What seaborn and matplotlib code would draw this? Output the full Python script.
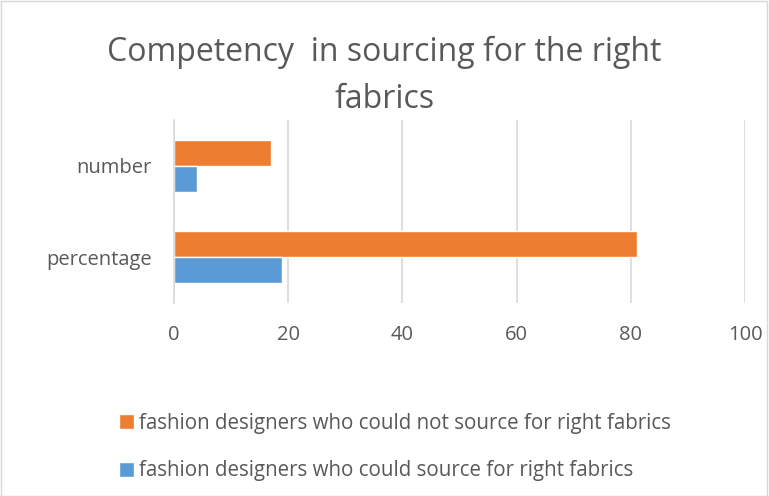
import matplotlib
matplotlib.use("Agg")
import matplotlib.pyplot as plt
import seaborn as sns
import pandas as pd
from matplotlib.patches import Rectangle, Patch

categories = ["number", "percentage"]
series_names = ["fashion designers who could not source for right fabrics",
                "fashion designers who could source for right fabrics"]
could_not = [17, 81]
could = [4, 19]
x_ticks = [0, 20, 40, 60, 80, 100]
colors = ["#ED7D31", "#5B9BD5"]

rows = []
for c, v in zip(categories, could_not):
    rows.append({"cat": c, "series": series_names[0], "value": v})
for c, v in zip(categories, could):
    rows.append({"cat": c, "series": series_names[1], "value": v})
df = pd.DataFrame(rows)

sns.set_theme(style="white")
plt.rcParams['font.family'] = ['Open Sans', 'DejaVu Sans']
text_color = "#595959"

fig = plt.figure(figsize=(7.69, 4.96), dpi=100)
ax = fig.add_axes([174/769, 1 - 303/496, (745-174)/769, (303-120)/496])

sns.barplot(data=df, y="cat", x="value", hue="series", order=categories,
            hue_order=series_names, palette=colors, orient="h", width=0.565,
            ax=ax, legend=False, saturation=1)

ax.set_xlim(0, 100)
ax.set_xticks(x_ticks)
ax.set_xticklabels([str(t) for t in x_ticks], fontsize=14.5, color=text_color)
ax.tick_params(axis='y', labelsize=14.5, colors=text_color, length=0, pad=16)
ax.tick_params(axis='x', length=0, pad=16)
ax.set_xlabel("")
ax.set_ylabel("")
ax.grid(axis='x', color="#D9D9D9", linewidth=1.2)
ax.set_axisbelow(True)
for s in ["top", "right", "bottom"]:
    ax.spines[s].set_visible(False)
ax.spines["left"].set_color("#D9D9D9")
ax.spines["left"].set_linewidth(1.2)

fig.text(0.5, 1 - 52/496, "Competency  in sourcing for the right", ha="center",
         va="center", fontsize=23, color=text_color)
fig.text(0.5, 1 - 99/496, "fabrics", ha="center", va="center",
         fontsize=23, color=text_color)

handles = [Patch(facecolor=colors[0]), Patch(facecolor=colors[1])]
leg = fig.legend(handles, series_names, loc="upper left",
                 bbox_to_anchor=(100/769, 1 - 394/496), frameon=False,
                 fontsize=14.8, labelcolor=text_color, handlelength=0.75,
                 handleheight=0.75, handletextpad=0.25, labelspacing=1.3)

fig.patches.append(Rectangle((0.001, 0.001), 0.997, 0.997, transform=fig.transFigure,
                             fill=False, edgecolor="#D9D9D9", linewidth=1))

fig.savefig("out.png", dpi=100)
